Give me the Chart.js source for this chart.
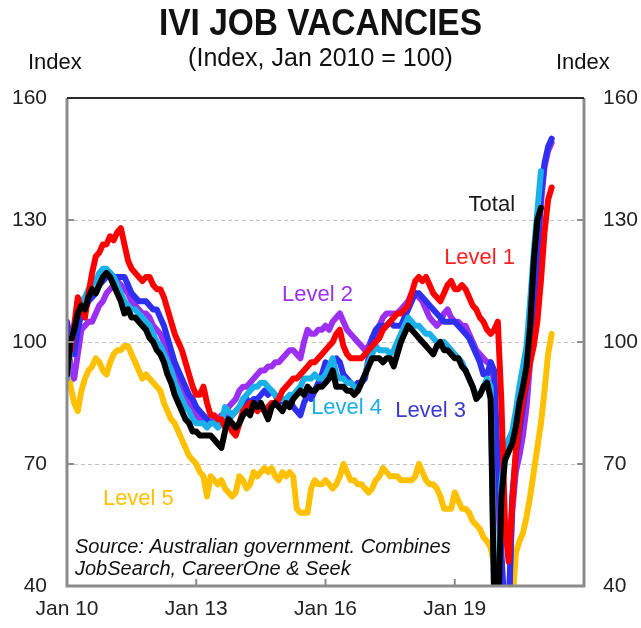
<!DOCTYPE html>
<html>
<head>
<meta charset="utf-8">
<title>IVI Job Vacancies</title>
<script src="https://cdn.jsdelivr.net/npm/chart.js@4.4.0/dist/chart.umd.min.js"></script>
<style>
	body { margin:0; background:#fff; }
	#wrap { position:relative; width:641px; height:628px; font-family:"Liberation Sans", Arial, sans-serif; color:#111; }
	#wrap canvas { position:absolute; left:0; top:0; }
	.txt { position:absolute; white-space:nowrap; line-height:1; }
	#title { left:0; width:641px; top:5px; text-align:center; font-weight:bold; font-size:36px; transform:scaleX(0.93); }
	#sub { left:0; width:641px; top:45px; text-align:center; font-size:25px; }
	#idxL { left:28px; top:51px; font-size:22px; }
	#idxR { left:556px; top:51px; font-size:22px; }
</style>
</head>
<body>
<div id="wrap">
	<canvas id="myChart" width="641" height="628"></canvas>
	<div class="txt" id="title">IVI JOB VACANCIES</div>
	<div class="txt" id="sub">(Index, Jan 2010 = 100)</div>
	<div class="txt" id="idxL">Index</div>
	<div class="txt" id="idxR">Index</div>
</div>
<script>
	// monthly, Jan 2010 onwards
	var total = [92,100,103,107,109,108,111,113,112,114,
		116,117,116,114,112,110,107,108,106,106,
		105,104,103,101,100,98,97,95,92,90,
		87,85,83,81,80,78,78,77,77,77,
		77,76,75,74,78,81,80,79,80,82,
		83,82,85,84,85,83,81,84,85,84,
		83,85,84,86,87,88,87,89,88,88,
		89,89,90,91,93,89,89,89,88,88,
		87,88,90,92,94,96,96,96,95,96,
		96,94,97,100,102,104,103,102,101,100,
		99,98,97,99,100,98,98,97,96,96,
		94,93,91,89,86,87,89,90,86,35,
		30,62,71,73,75,79,85,89,94,104,
		120,130,133];
	var level1 = [99,98,104,111,108,106,112,117,121,122,
		124,124,126,125,127,128,124,120,118,117,
		116,115,116,116,114,113,113,111,108,105,
		102,100,98,95,92,89,87,87,89,85,
		82,82,81,81,79,80,78,77,80,83,
		84,85,84,83,84,83,84,85,85,86,
		88,89,90,91,91,92,93,94,95,95,
		96,97,98,99,100,102,103,99,97,96,
		96,96,96,97,98,99,100,101,103,104,
		105,106,107,107,108,109,112,115,116,115,
		116,114,112,111,110,112,114,115,113,113,
		114,113,111,109,108,106,105,103,102,103,
		105,85,55,46,60,73,80,86,90,95,
		99,105,115,127,135,138];
	var level2 = [101,94,91,97,103,104,105,105,107,109,
		110,112,113,114,115,114,113,112,110,109,
		108,107,107,106,104,103,102,100,98,96,
		94,91,89,87,85,83,82,81,80,80,
		80,81,81,82,82,84,85,86,88,89,
		89,90,91,92,93,93,94,94,95,95,
		96,97,98,98,97,96,100,103,102,102,
		103,103,104,103,105,106,107,105,103,102,
		101,100,99,98,99,101,102,104,106,107,
		107,107,107,108,109,110,112,112,111,110,
		108,106,105,104,105,107,108,106,105,105,
		104,104,102,100,98,97,96,95,95,90,
		65,40,30,35,58,68,72,77,84,95,
		106,120,134,143,147,149];
	var level3 = [105,100,97,103,107,108,110,111,112,114,
		115,116,117,116,116,116,116,114,112,111,
		110,110,110,109,108,108,106,104,101,98,
		95,93,91,89,87,86,84,83,82,81,
		80,80,80,80,81,81,82,83,84,85,
		86,85,86,86,87,88,87,88,87,85,
		86,85,86,84,83,82,85,87,86,88,
		90,92,95,93,94,96,95,92,91,90,
		89,90,90,91,96,101,103,104,104,104,
		105,104,104,104,106,108,110,112,112,111,
		110,109,108,107,106,105,105,105,105,104,
		103,102,101,99,97,95,92,92,95,93,
		70,48,32,30,62,72,78,84,90,98,
		108,122,136,144,148,150];
	var level4 = [91,99,104,108,110,111,113,114,115,117,
		118,118,117,116,114,112,110,109,108,108,
		107,106,105,104,102,100,99,97,95,93,
		90,88,86,84,83,81,80,80,80,79,
		80,80,79,80,84,83,82,83,84,86,
		87,88,89,89,90,90,89,88,87,86,
		86,86,87,87,88,89,91,91,91,92,
		91,91,92,94,96,92,91,91,90,90,
		89,88,90,92,95,97,99,98,98,98,
		97,98,100,102,104,106,105,104,104,103,
		102,102,101,100,99,100,99,98,97,96,
		95,93,91,89,87,87,89,91,89,38,
		32,65,74,76,78,83,89,94,99,110,
		122,132,142];
	var level5 = [99,89,85,83,88,91,93,94,96,95,
		93,92,95,97,98,98,99,99,97,95,
		93,91,92,91,90,89,88,85,83,81,
		80,78,76,74,72,71,70,68,67,62,
		67,66,65,66,64,63,62,63,67,66,
		64,65,68,67,68,69,68,69,67,66,
		68,67,68,67,59,58,58,58,64,66,
		65,65,66,65,64,65,67,70,68,66,
		66,65,65,64,63,64,66,67,69,68,
		67,67,67,66,66,66,66,67,70,68,
		66,65,65,64,62,59,59,59,63,61,
		59,59,58,56,55,54,52,51,49.5,45,
		38,33,30,30,35,48,51,53,57,62,
		68,74,80,88,97,102];

	var xTickLabels = ['Jan 10', 'Jan 13', 'Jan 16', 'Jan 19'];
	var yTicks = [40, 70, 100, 130, 160];

	var monthNames = ['Jan','Feb','Mar','Apr','May','Jun','Jul','Aug','Sep','Oct','Nov','Dec'];
	var months = [];
	for (var yr = 10; yr <= 22; yr++) {
		for (var m = 0; m < 12; m++) {
			months.push(monthNames[m] + ' ' + yr);
			if (yr == 22) break;
		}
	}

	// series name tags, placed in data units (month index, index value)
	var seriesTags = [
		{text: 'Total',   color: '#1a1a1a', x: 124.8, y: 133.7, align: 'right'},
		{text: 'Level 1', color: '#ff1f1f', x: 124.8, y: 120.6, align: 'right'},
		{text: 'Level 2', color: '#9b30f0', x: 59.9,  y: 111.6, align: 'left'},
		{text: 'Level 4', color: '#1aaee0', x: 68.0,  y: 83.8,  align: 'left'},
		{text: 'Level 3', color: '#3a3acf', x: 91.4,  y: 83.0,  align: 'left'},
		{text: 'Level 5', color: '#ffc000', x: 10.0,  y: 61.4,  align: 'left'}
	];

	var framePlugin = {
		id: 'frame',
		beforeDatasetsDraw: function(chart) {
			var c = chart.ctx, a = chart.chartArea, ys = chart.scales.y;
			c.save();
			c.strokeStyle = '#c4c4c4';
			c.lineWidth = 1;
			c.setLineDash([4, 3]);
			[70, 100, 130].forEach(function(v) {
				var py = Math.round(ys.getPixelForValue(v)) + 0.5;
				c.beginPath();
				c.moveTo(a.left, py);
				c.lineTo(a.right, py);
				c.stroke();
			});
			c.restore();
		},
		afterDatasetsDraw: function(chart) {
			var c = chart.ctx, a = chart.chartArea, ys = chart.scales.y, xs = chart.scales.x;
			c.save();
			c.strokeStyle = '#8c8c8c';
			c.lineWidth = 3;
			c.beginPath();
			c.moveTo(a.left, a.top);
			c.lineTo(a.left, a.bottom);
			c.lineTo(a.right, a.bottom);
			c.lineTo(a.right, a.top);
			c.stroke();
			c.strokeStyle = '#2a2a2a';
			c.lineWidth = 2;
			c.beginPath();
			c.moveTo(a.left, a.top);
			c.lineTo(a.right, a.top);
			c.stroke();

			c.strokeStyle = '#8c8c8c';
			c.lineWidth = 2;
			[70, 100, 130].forEach(function(v) {
				var py = ys.getPixelForValue(v);
				c.beginPath();
				c.moveTo(a.left, py); c.lineTo(a.left + 7, py);
				c.moveTo(a.right - 7, py); c.lineTo(a.right, py);
				c.stroke();
			});
			xTickLabels.forEach(function(l, i) {
				if (i == 0) return;
				var px = xs.getPixelForValue(months.indexOf(l));
				c.beginPath();
				c.moveTo(px, a.bottom); c.lineTo(px, a.bottom - 7);
				c.stroke();
			});

			c.font = '22px "Liberation Sans", Arial, sans-serif';
			c.textBaseline = 'middle';
			seriesTags.forEach(function(t) {
				c.fillStyle = t.color;
				c.textAlign = t.align;
				c.fillText(t.text, xs.getPixelForValue(t.x), ys.getPixelForValue(t.y));
			});

			c.font = 'italic 20px "Liberation Sans", Arial, sans-serif';
			c.fillStyle = '#111';
			c.textAlign = 'left';
			c.fillText('Source: Australian government. Combines', a.left + 8, a.bottom - 39);
			c.fillText('JobSearch, CareerOne & Seek', a.left + 8, a.bottom - 17);
			c.restore();
		}
	};

	function series(label, data, color, order) {
		return {
			label: label,
			data: data,
			borderColor: color,
			backgroundColor: color,
			borderWidth: 6,
			pointRadius: 0,
			tension: 0,
			fill: false,
			clip: 0,
			order: order
		};
	}

	var tickFont = {family: '"Liberation Sans", Arial, sans-serif', size: 21};

	var ctxLine = document.getElementById('myChart').getContext('2d');
	var myLine = new Chart(ctxLine, {
		type: 'line',
		data: {
			labels: months,
			datasets: [
				series('Level 5', level5, '#ffc000', 6),
				series('Level 2', level2, '#9b30f0', 5),
				series('Level 3', level3, '#2f2ff0', 4),
				series('Level 4', level4, '#1ab0e8', 3),
				series('Level 1', level1, '#ff0000', 2),
				series('Total', total, '#000000', 1)
			]
		},
		options: {
			responsive: false,
			animation: false,
			devicePixelRatio: 1,
			layout: { padding: { top: 98, left: 0, right: 0, bottom: 0 } },
			elements: { line: { borderJoinStyle: 'round', borderCapStyle: 'round' } },
			plugins: {
				legend: { display: false },
				tooltip: { enabled: false }
			},
			scales: {
				x: {
					type: 'category',
					offset: false,
					grid: { display: false },
					border: { display: false },
					ticks: {
						autoSkip: false,
						maxRotation: 0,
						minRotation: 0,
						padding: 3,
						color: '#222',
						font: tickFont,
						callback: function(v) {
							var l = this.getLabelForValue(v);
							return xTickLabels.indexOf(l) >= 0 ? l : '';
						}
					},
					afterFit: function(s) { s.height = 42; }
				},
				y: {
					position: 'left',
					min: 40,
					max: 160,
					grid: { display: false },
					border: { display: false },
					ticks: { stepSize: 30, padding: 12, color: '#222', font: tickFont },
					afterBuildTicks: function(s) { s.ticks = yTicks.map(function(v) { return {value: v}; }); },
					afterFit: function(s) { s.width = 67; }
				},
				y2: {
					position: 'right',
					min: 40,
					max: 160,
					grid: { display: false },
					border: { display: false },
					ticks: { stepSize: 30, padding: 11, color: '#222', font: tickFont },
					afterBuildTicks: function(s) { s.ticks = yTicks.map(function(v) { return {value: v}; }); },
					afterFit: function(s) { s.width = 57; }
				}
			}
		},
		plugins: [framePlugin]
	});
</script>
</body>
</html>
